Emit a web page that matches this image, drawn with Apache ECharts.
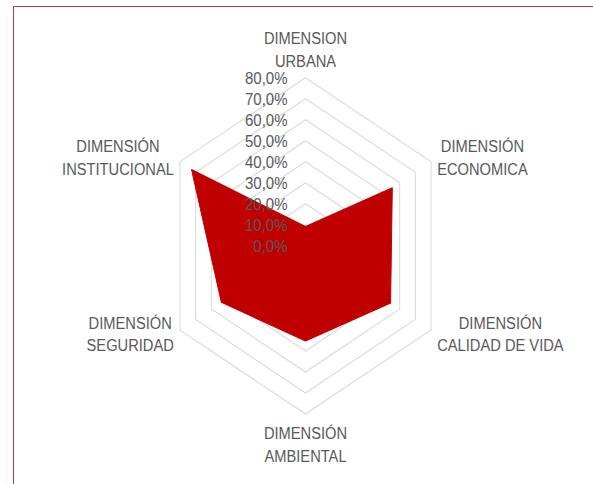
<!DOCTYPE html>
<html>
<head>
<meta charset="utf-8">
<script src="https://cdn.jsdelivr.net/npm/echarts@6/dist/echarts.min.js"></script>
<style>
  html, body { margin: 0; padding: 0; background: #fff; }
  body { width: 593px; height: 484px; overflow: hidden; position: relative; }
  .frame {
    position: absolute; left: 13px; top: 6px; width: 700px; height: 600px;
    border-left: 1.5px solid #a8403f; border-top: 1.5px solid #a8403f;
  }
  /* the reference picture is stretched vertically, so the chart is too */
  #chart {
    position: absolute; left: 0; top: 0; width: 593px; height: 417px;
    transform: scaleY(1.16); transform-origin: 0 0;
  }
</style>
</head>
<body>
<div class="frame"></div>
<div id="chart"></div>
<script>
// clockwise from the top, as in the picture
const categories = [
  "DIMENSION\nURBANA",
  "DIMENSIÓN\nECONOMICA",
  "DIMENSIÓN\nCALIDAD DE VIDA",
  "DIMENSIÓN\nAMBIENTAL",
  "DIMENSIÓN\nSEGURIDAD",
  "DIMENSIÓN\nINSTITUCIONAL",
];
const values = [9.2, 55.3, 54.2, 45.2, 53.6, 72.6];
const axisMax = 80;
const axisSplits = 8;

const FONT = "'Liberation Sans', Arial, sans-serif";
const GREY = "#595959";

// echarts lays radar indicators out counter-clockwise
function ccw(list) {
  return [list[0]].concat(list.slice(1).reverse());
}

function formatPct(v) {
  return v.toFixed(1).replace(".", ",") + "%";
}

const chart = echarts.init(document.getElementById("chart"), null, { renderer: "svg" });

const indicators = ccw(categories).map((name, i) => ({
  name,
  min: 0,
  max: axisMax,
  nameGap: i === 0 ? 5 : 7,
}));
const labelIndicators = indicators.map((ind, i) => ({
  name: "",
  min: 0,
  max: axisMax,
  axisLabel: { show: i === 0 },
}));

const shared = {
  center: [305.5, 212],
  radius: 145,
  startAngle: 90,
  shape: "polygon",
  splitNumber: axisSplits,
  axisLine: { show: false },
  axisTick: { show: false },
  splitArea: { show: false },
};

chart.setOption({
  animation: false,
  radar: [
    {
      ...shared,
      indicator: indicators,
      nameGap: 7,
      axisName: {
        color: GREY,
        fontFamily: FONT,
        fontSize: 14.7,
        formatter: (name) => name.split("\n").map((s) => "{c|" + s + "}").join("\n"),
        rich: {
          c: { align: "center", color: GREY, fontFamily: FONT, fontSize: 14.7, lineHeight: 19.5 },
        },
      },
      splitLine: { lineStyle: { color: "#d9d9d9", width: 1 } },
      axisLabel: { show: false },
    },
    {
      ...shared,
      z: 10,
      indicator: labelIndicators,
      axisName: { show: false },
      splitLine: { show: false },
      axisLabel: {
        show: false,
        margin: 18,
        color: GREY,
        fontFamily: FONT,
        fontSize: 15,
        lineHeight: 16,
        formatter: formatPct,
      },
    },
  ],
  series: [
    {
      type: "radar",
      radarIndex: 0,
      symbol: "none",
      lineStyle: { color: "#c00000", width: 1 },
      areaStyle: { color: "#c00000", opacity: 1 },
      data: [{ value: ccw(values), name: "Dimensiones" }],
    },
  ],
});
</script>
</body>
</html>
